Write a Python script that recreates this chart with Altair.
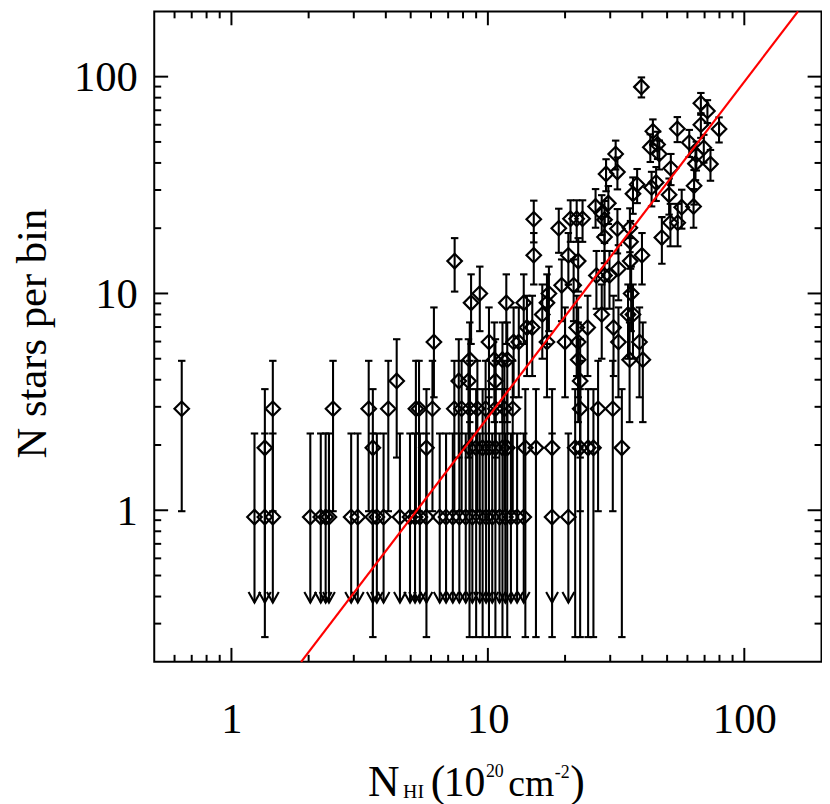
import altair as alt
import numpy as np
import pandas as pd

# ---------------- data ----------------
# Poisson-like count levels (stars per bin) and their 1-sigma errors
level_nstars = [0.93, 1.94, 2.94, 3.95, 4.95, 5.97, 6.96, 8.0, 9.05, 10.0, 10.9, 12.1, 13.0, 14.1, 15.0]
level_err = [1.33, 1.68, 1.95, 2.2, 2.4, 2.65, 2.8, 3.0, 3.2, 3.3, 3.45, 3.6, 3.7, 3.9, 4.0]
# N_HI (1e20 cm^-2) of the bins found at each level
level_nhi = [
    [1.23, 1.35, 1.45, 2.03, 2.23, 2.33, 2.40, 2.93, 3.11, 3.56, 3.69, 3.92, 4.54, 4.97, 5.2, 5.43,
     5.76, 6.49, 6.87, 7.3, 7.74, 8.2, 8.7, 9.3, 9.84, 10.4, 11.1, 11.7, 12.3, 13.0, 13.8, 17.8, 20.6],
    [1.35, 3.56, 5.76, 8.48, 9.0, 9.54, 10.1, 10.7, 11.4, 11.9, 14.0, 15.4, 17.8, 21.9, 22.9, 24.6,
     25.8, 33.3],
    [0.64, 1.45, 2.49, 3.43, 4.09, 5.24, 5.39, 6.08, 7.4, 7.9, 8.5, 9.1, 9.8, 10.7, 11.6, 12.5, 22.9,
     26.9, 30.7],
    [4.41, 7.7, 8.4, 10.7, 22.9],
    [8.5, 10.6, 11.4, 11.9, 22.5, 35.7, 40.2],
    [6.16, 10.1, 12.6, 13.2, 17.0, 20.0, 22.5, 32.3, 39.0],
    [14.2, 14.9, 22.2, 24.5, 30.9],
    [16.3, 27.8, 35.2, 36.8],
    [8.6, 11.8, 13.8, 17.0],
    [9.3, 17.3, 36.2],
    [19.4, 21.6],
    [26.5, 28.5, 29.8],
    [32.3],
    [7.42, 22.5, 35.9],
    [15.1, 20.6, 39.9],
]
# higher-count bins
upper_nhi = [36.0, 28.5, 47.7, 18.9, 32.0, 35.8, 51.5, 55.0, 15.1, 21.0, 22.2, 23.4, 28.5, 27.8,
             26.3, 29.5, 57.0, 63.4, 36.8, 50.9, 43.5, 38.2, 63.7, 45.3, 28.9, 32.0, 51.7, 64.5,
             73.8, 31.5, 46.6, 65.0, 43.0, 45.9, 61.0, 69.5, 44.0, 54.8, 79.7, 67.7, 71.8, 67.7, 39.7]
upper_nstars = [17.3, 18.2, 18.1, 20.0, 19.9, 20.1, 21.2, 21.2, 22.0, 22.1, 22.1, 22.1, 21.9, 23.5,
                25.2, 26.1, 25.0, 25.2, 28.8, 28.5, 30.8, 31.8, 31.4, 32.5, 35.6, 36.3, 37.8, 39.7,
                39.5, 44.0, 44.0, 43.5, 47.3, 48.7, 49.7, 47.0, 56.0, 57.5, 57.3, 60.0, 69.5, 75.4, 89.7]
upper_err = [4.3, 4.4, 4.4, 4.6, 4.6, 4.6, 4.7, 4.7, 4.8, 4.8, 4.8, 4.8, 4.8, 4.9,
             5.1, 5.2, 5.1, 5.1, 5.5, 5.4, 5.6, 5.7, 5.7, 5.8, 6.0, 6.1, 6.2, 6.4,
             6.4, 6.7, 6.7, 6.6, 6.9, 7.0, 7.1, 6.9, 7.5, 7.6, 7.6, 7.8, 8.4, 8.7, 9.5]

# level where downward (upper-limit) arrows end
ARROW_AT = 0.375

# red fitted line (end points read at the frame edges)
fit_nhi = [1.87, 162.0]
fit_nstars = [0.2, 200.0]

# axis tick values
x_major = [1, 10, 100]
x_minor = [0.6, 0.7, 0.8, 0.9, 2, 3, 4, 5, 6, 7, 8, 9, 20, 30, 40, 50, 60, 70, 80, 90]
y_major = [1, 10, 100]
y_minor = [0.3, 0.4, 0.5, 0.6, 0.7, 0.8, 0.9, 2, 3, 4, 5, 6, 7, 8, 9, 20, 30, 40, 50, 60, 70, 80, 90]

# ---------------- build tables ----------------
rows = []
for yv, ev, xl in zip(level_nstars, level_err, level_nhi):
    for xv in xl:
        rows.append((xv, yv, ev))
for xv, yv, ev in zip(upper_nhi, upper_nstars, upper_err):
    rows.append((xv, yv, ev))
df = pd.DataFrame(rows, columns=["nhi", "n", "err"])
df["limit"] = (df["n"] - df["err"]) <= 0
df["lo"] = np.where(df["limit"], ARROW_AT, df["n"] - df["err"])
df["hi"] = df["n"] + df["err"]

fit_df = pd.DataFrame({"nhi": fit_nhi, "n": fit_nstars})

# ---------------- styling ----------------
FONT = "Liberation Serif"
W, H = 673, 656
MAJ, MIN = 14, 7
LW = 2.1

xs = alt.Scale(type="log", domain=[0.5, 200], nice=False)
ys = alt.Scale(type="log", domain=[0.2, 200], nice=False)
xaxis = alt.Axis(values=x_major, format="d", ticks=False, tickSize=0, domain=False, grid=False,
                 labelFont=FONT, labelFontSize=43, labelColor="black", labelPadding=71,
                 labelBaseline="alphabetic", labelFlush=False, labelOverlap=False, title=None)
yaxis = alt.Axis(values=y_major, format="d", ticks=False, tickSize=0, domain=False, grid=False,
                 labelFont=FONT, labelFontSize=43, labelColor="black", labelPadding=17,
                 labelBaseline="alphabetic", labelOffset=14, labelFlush=False, labelOverlap=False,
                 title=None)


def X(f):
    return alt.X(f, type="quantitative", scale=xs, axis=xaxis)


def Y(f):
    return alt.Y(f, type="quantitative", scale=ys, axis=yaxis)


bars = alt.Chart(df).mark_rule(color="black", strokeWidth=LW).encode(x=X("nhi"), y=Y("lo"), y2="hi")
caps_top = alt.Chart(df).mark_tick(orient="horizontal", color="black", size=7.5, thickness=LW,
                                   opacity=1).encode(x=X("nhi"), y=Y("hi"))
caps_bot = alt.Chart(df).transform_filter("!datum.limit").mark_tick(
    orient="horizontal", color="black", size=7.5, thickness=LW, opacity=1).encode(x=X("nhi"), y=Y("lo"))
arrows = alt.Chart(df).transform_filter("datum.limit").mark_point(
    shape="M-1,-1.8L0,0L1,-1.8", filled=False, size=144, strokeWidth=LW, color="black",
    opacity=1).encode(x=X("nhi"), y=Y("lo"))
diamonds = alt.Chart(df).mark_point(shape="diamond", filled=False, size=215, strokeWidth=2.2,
                                    color="black", opacity=1).encode(x=X("nhi"), y=Y("n"))
fit = alt.Chart(fit_df).mark_line(color="#ff0000", strokeWidth=2.2).encode(x=X("nhi"), y=Y("n"))


def xticks(vals, length):
    d = pd.DataFrame({"v": vals})
    b = alt.Chart(d).mark_rule(color="black", strokeWidth=2)
    return [b.encode(x=X("v"), y=alt.value(H), y2=alt.value(H - length)),
            b.encode(x=X("v"), y=alt.value(0), y2=alt.value(length))]


def yticks(vals, length):
    d = pd.DataFrame({"v": vals})
    b = alt.Chart(d).mark_rule(color="black", strokeWidth=2)
    return [b.encode(y=Y("v"), x=alt.value(0), x2=alt.value(length)),
            b.encode(y=Y("v"), x=alt.value(W), x2=alt.value(W - length))]


ticks = xticks(x_major, MAJ) + xticks(x_minor, MIN) + yticks(y_major, MAJ) + yticks(y_minor, MIN)

one = pd.DataFrame({"k": [0]})


def label(text, x, y, size, angle=0, align="left"):
    return alt.Chart(one).mark_text(text=text, font=FONT, fontSize=size, color="black",
                                    align=align, baseline="alphabetic", angle=angle).encode(
        x=alt.value(x), y=alt.value(y))


OX, OY = 155.5, 8  # page position of plot origin
texts = [
    label("N stars per bin", 46.5 - OX, 333 - OY, 43, angle=270, align="center"),
    label("N", 371.0 - OX, 799.3 - OY, 44),
    label("HI", 406.5 - OX, 801.7 - OY, 20),
    label("(", 434.5 - OX, 799.3 - OY, 44),
    label("10", 447.5 - OX, 799.3 - OY, 42),
    label("20", 490.0 - OX, 780.0 - OY, 18),
    label("cm", 512.5 - OX, 799.3 - OY, 38),
    label("-2", 559.5 - OX, 781.7 - OY, 18),
    label(")", 575.0 - OX, 799.3 - OY, 44),
]

chart = alt.layer(bars, caps_top, caps_bot, arrows, diamonds, fit, *ticks, *texts).properties(
    width=W, height=H,
    autosize=alt.AutoSizeParams(type="none"),
    padding={"left": 147.5, "top": 0, "right": 0.5, "bottom": 140},
).configure(background="white").configure_view(stroke="black", strokeWidth=2)

chart.save("out.html", embed_options={"renderer": "svg", "actions": False})
